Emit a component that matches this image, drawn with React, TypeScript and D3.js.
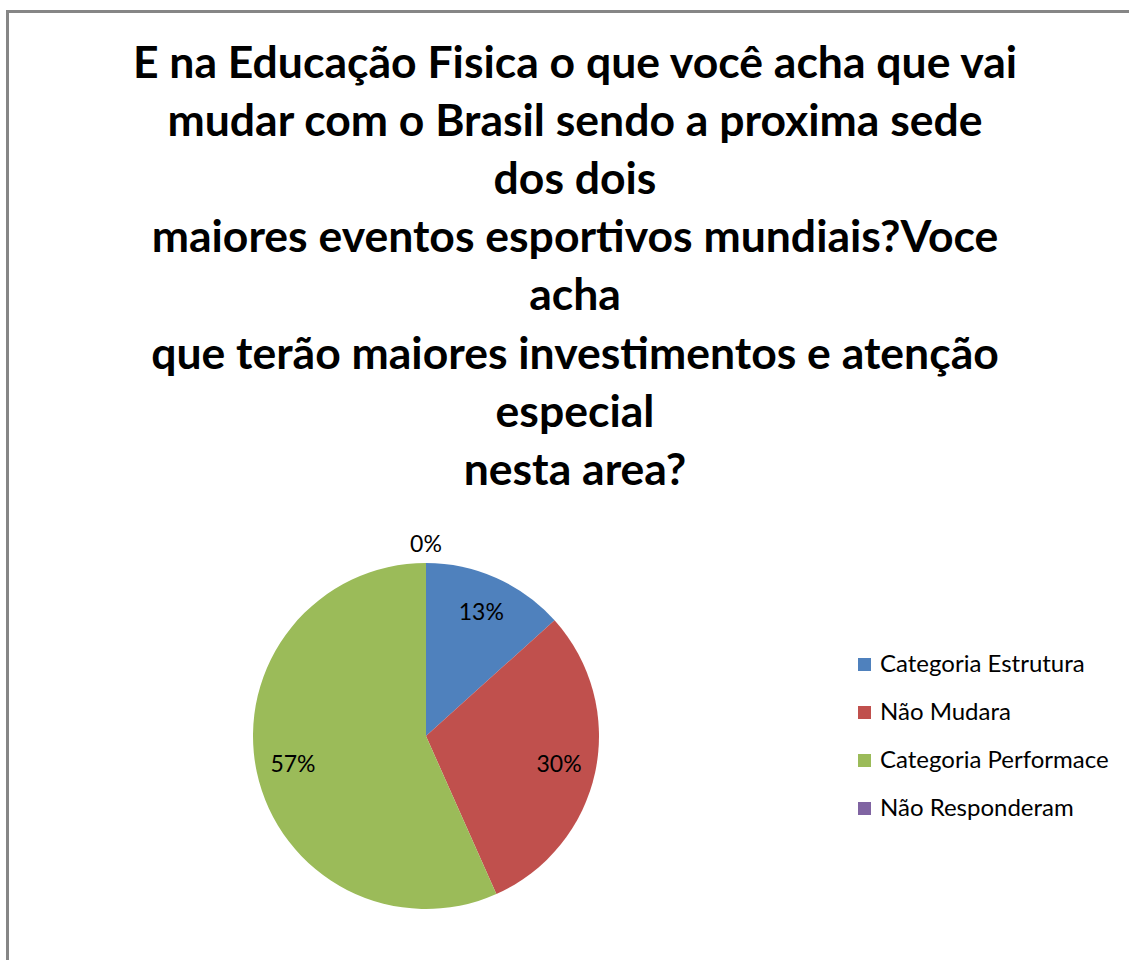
import React from "react";
import * as d3 from "d3";

const titleLines = [
  "E na Educação Fisica o que você acha que vai",
  "mudar com o Brasil sendo a proxima sede",
  "dos dois",
  "maiores eventos esportivos mundiais?Voce",
  "acha",
  "que terão maiores investimentos e atenção",
  "especial",
  "nesta area?",
];
const categories = ["Categoria Estrutura", "Não Mudara", "Categoria Performace", "Não Responderam"];
const values = [4, 9, 17, 0];
const colors = ["#4F81BD", "#C0504D", "#9BBB59", "#8064A2"];

export default function App() {
  const W = 1129, H = 960;
  const cx = 426, cy = 736, r = 173;
  const total = d3.sum(values);
  const pie = d3.pie<number>().sort(null).value((d) => d);
  const arcs = pie(values);
  const arc = d3.arc<d3.PieArcDatum<number>>().innerRadius(0).outerRadius(r);
  const labelArc = d3.arc<d3.PieArcDatum<number>>().innerRadius(136).outerRadius(136);
  const outerArc = d3.arc<d3.PieArcDatum<number>>().innerRadius(r + 19).outerRadius(r + 19);
  const fmt = (v: number) => Math.round((v / total) * 100) + "%";
  const font = "Lato, 'Open Sans', sans-serif";
  return (
    <svg width={W} height={H} style={{ position: "absolute", left: 0, top: 0, background: "#fff" }}>
      <rect x={0} y={0} width={W} height={H} fill="#fff" />
      <line x1={7.5} y1={11.5} x2={7.5} y2={H} stroke="#868686" strokeWidth={3} />
      <line x1={6} y1={11.5} x2={W} y2={11.5} stroke="#868686" strokeWidth={3} />
      <g fontFamily={font} fontWeight="bold" fontSize={44.5} textAnchor="middle" fill="#000">
        {titleLines.map((t, i) => (
          <text key={i} x={575} y={78 + i * 58.1}>{t}</text>
        ))}
      </g>
      <g transform={`translate(${cx},${cy})`}>
        {arcs.map((a, i) => (
          <path key={i} d={arc(a) || ""} fill={colors[i]} />
        ))}
        {arcs.map((a, i) => {
          const zero = a.data === 0;
          const [x, y] = zero ? outerArc.centroid(a) : labelArc.centroid(a);
          return (
            <text key={"l" + i} x={x} y={y} dy="0.35em" textAnchor="middle"
              fontFamily={font} fontSize={23} fill="#000">{fmt(a.data)}</text>
          );
        })}
      </g>
      <g fontFamily={font} fontSize={24} fill="#000">
        {categories.map((c, i) => (
          <g key={c} transform={`translate(858,${664 + i * 48})`}>
            <rect x={0} y={-6} width={13} height={13} fill={colors[i]} />
            <text x={22} y={0} dy="0.35em">{c}</text>
          </g>
        ))}
      </g>
    </svg>
  );
}
